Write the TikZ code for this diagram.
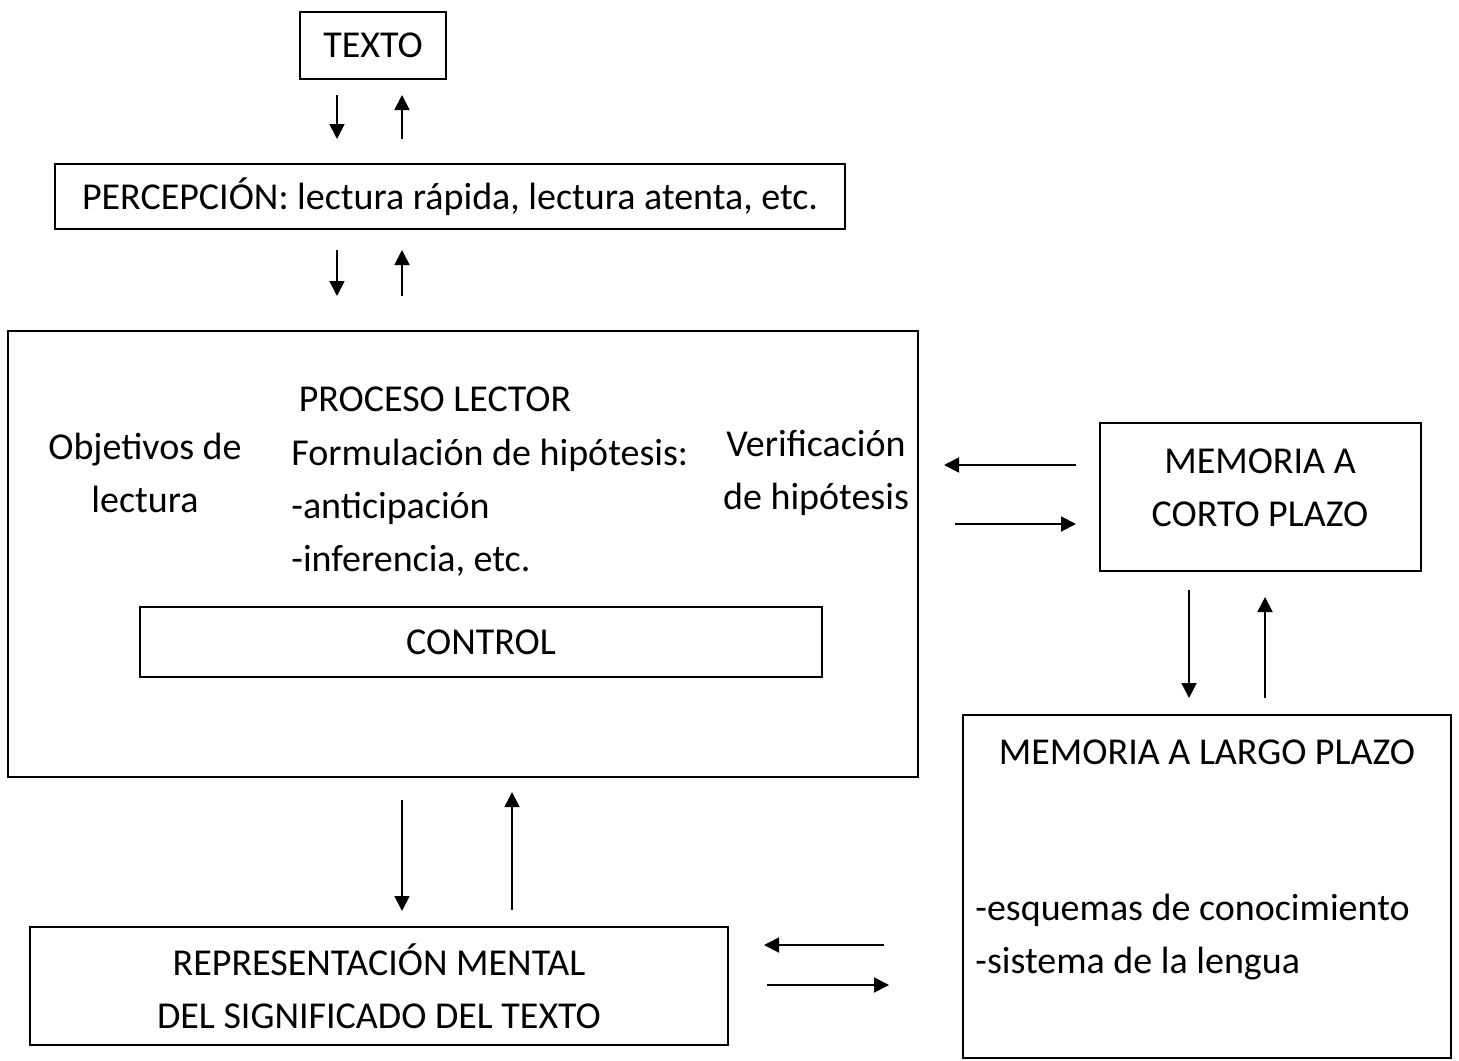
\documentclass[tikz,border=0pt]{standalone}
\usepackage{fontspec}
\setmainfont{Carlito}
\usetikzlibrary{arrows.meta}

\tikzset{
  caja/.style = {draw, line width=.8pt, inner sep=0pt, align=center},
  txt/.style = {inner sep=0pt, align=center},
  flecha/.style = {line width=.9pt, -{Triangle[length=7.5pt, width=7.5pt]}},
}

\begin{document}
\begin{tikzpicture}[x=.5pt, y=-.5pt, font={\fontsize{19}{26.5}\selectfont}]
  \useasboundingbox (0, 0) rectangle (1459, 1060);
  % cajas (medidas en pt)
  \node[caja, minimum width=73pt, minimum height=33.5pt] (texto) at (373, 45.5) {TEXTO};
  \node[caja, minimum width=395pt, minimum height=32.5pt] (percepcion) at (450, 196.5) {PERCEPCIÓN: lectura rápida, lectura atenta, etc.};
  \node[caja, minimum width=455pt, minimum height=223pt] (proceso) at (463, 554) {};
  \node[caja, minimum width=341pt, minimum height=35pt] (control) at (481, 642) {CONTROL};
  \node[caja, minimum width=160.5pt, minimum height=74pt] (corto) at (1260.5, 497) {};
  \node[caja, minimum width=244pt, minimum height=171.5pt] (largo) at (1207, 886.5) {};
  \node[caja, minimum width=349pt, minimum height=59pt] (repr) at (379, 986) {REPRESENTACIÓN MENTAL\\DEL SIGNIFICADO DEL TEXTO};
  % textos
  \node[txt] (titulo) at (435, 399) {PROCESO LECTOR};
  \node[txt] (objetivos) at (145, 473) {Objetivos de\\lectura};
  \node[txt, align=left, anchor=west] (hipotesis) at (291, 508) {Formulación de hipótesis:\\-anticipación\\-inferencia, etc.};
  \node[txt] (verif) at (816, 473) {Verificación\\de hipótesis};
  \node[txt] (cortotxt) at (1260, 488) {MEMORIA A\\CORTO PLAZO};
  \node[txt] (largotxt) at (1207, 752) {MEMORIA A LARGO PLAZO};
  \node[txt, align=left, anchor=west] (esquemas) at (975, 937) {-esquemas de conocimiento\\-sistema de la lengua};
  % extremos de las flechas
  \coordinate (t1) at (337, 95);  \coordinate (t2) at (337, 139);
  \coordinate (t3) at (402, 139); \coordinate (t4) at (402, 95);
  \coordinate (p1) at (337, 250); \coordinate (p2) at (337, 296);
  \coordinate (p3) at (402, 296); \coordinate (p4) at (402, 250);
  \coordinate (c1) at (1076, 465); \coordinate (c2) at (944, 465);
  \coordinate (c3) at (955, 524);  \coordinate (c4) at (1076, 524);
  \coordinate (m1) at (1189, 590); \coordinate (m2) at (1189, 698);
  \coordinate (m3) at (1265, 698); \coordinate (m4) at (1265, 597);
  \coordinate (r1) at (402, 800); \coordinate (r2) at (402, 911);
  \coordinate (r3) at (512, 910); \coordinate (r4) at (512, 792);
  \coordinate (l1) at (884, 945); \coordinate (l2) at (764, 945);
  \coordinate (l3) at (767, 985); \coordinate (l4) at (889, 985);
  % flechas
  \draw[flecha] (t1) -- (t2);
  \draw[flecha] (t3) -- (t4);
  \draw[flecha] (p1) -- (p2);
  \draw[flecha] (p3) -- (p4);
  \draw[flecha] (c1) -- (c2);
  \draw[flecha] (c3) -- (c4);
  \draw[flecha] (m1) -- (m2);
  \draw[flecha] (m3) -- (m4);
  \draw[flecha] (r1) -- (r2);
  \draw[flecha] (r3) -- (r4);
  \draw[flecha] (l1) -- (l2);
  \draw[flecha] (l3) -- (l4);
\end{tikzpicture}
\end{document}
